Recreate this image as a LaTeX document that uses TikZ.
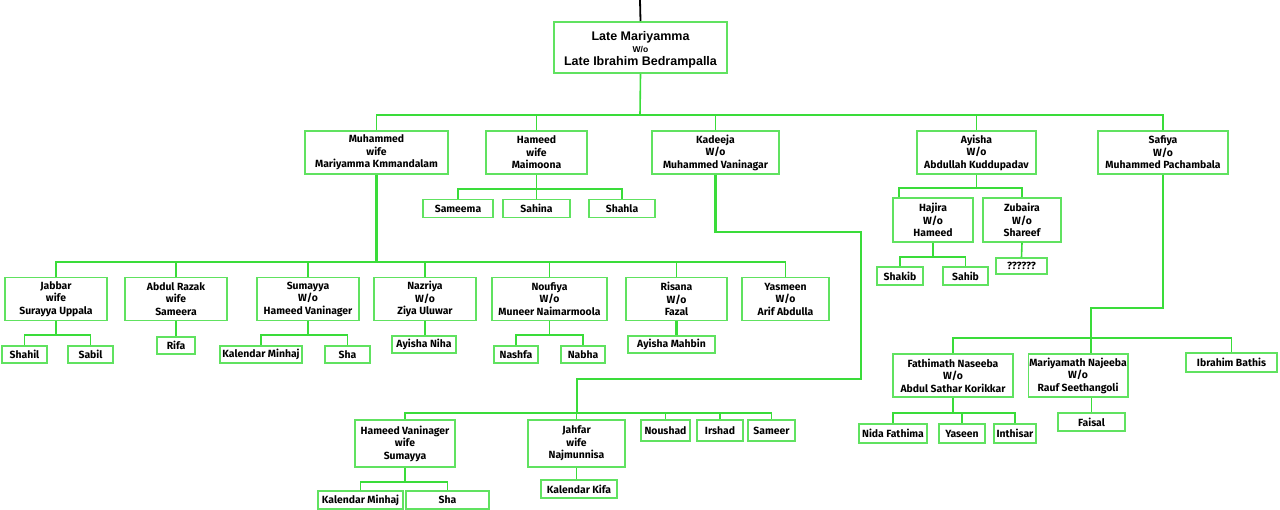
\documentclass[tikz,border=0pt]{standalone}
\usepackage{fontspec}
\setmainfont{Fira Sans}
\newfontfamily\rootfont{Liberation Sans}
\usetikzlibrary{positioning,calc}
\definecolor{boxgreen}{RGB}{96,226,96}
\definecolor{treegreen}{RGB}{58,220,58}
\tikzset{
  pbox/.style={draw=boxgreen, line width=1.5, align=center, inner sep=1pt,
    minimum height=43, font=\bfseries\fontsize{10.4}{12.5}\selectfont},
  kid/.style={pbox, minimum height=18},
  rootbox/.style={pbox, line width=2, font=\rootfont\bfseries\fontsize{12.5}{12.5}\selectfont},
  tline/.style={treegreen, line width=1.6},
  mline/.style={treegreen, line width=2.8},
}

\begin{document}
\begin{tikzpicture}[x=1pt,y=-1pt]
\useasboundingbox (0,0) rectangle (1280,510);
% root
\node[rootbox, minimum width=173, minimum height=51] (root) at (640.5,47.5)
  {\rule{0pt}{13pt}Late Mariyamma\\{\fontsize{8.5}{9}\selectfont W/o}\\Late Ibrahim Bedrampalla};
\coordinate (top) at (640,0);
\draw[black, line width=1.8] (root.north) -- (top);
% children
\node[pbox, minimum width=143] (muh) at (376.5,152.5) {Muhammed\\wife\\Mariyamma Kmmandalam};
\node[pbox, minimum width=101] (ham) at (536.5,152.5) {Hameed\\wife\\Maimoona};
\node[pbox, minimum width=127] (kad) at (715.5,152.5) {Kadeeja\\W/o\\Muhammed Vaninagar};
\node[pbox, minimum width=119] (ayi) at (976.5,152.5) {Ayisha\\W/o\\Abdullah Kuddupadav};
\node[pbox, minimum width=130] (saf) at (1163,152.5) {Safiya\\W/o\\Muhammed Pachambala};
\coordinate (b1) at (640,115);
\draw[tline] (root.south) -- (b1);
\foreach \n in {muh,ham,kad,ayi,saf} \draw[tline] (\n.north) |- (b1);
% Hameed
\node[kid, minimum width=70] (sameema) at (458,208.5) {Sameema};
\node[kid, minimum width=67] (sahina) at (536.5,208.5) {Sahina};
\node[kid, minimum width=66] (shahla) at (622,208.5) {Shahla};
\coordinate (b2) at (536.5,189);
\draw[tline] (ham.south) -- (b2);
\foreach \n in {sameema,sahina,shahla} \draw[tline] (\n.north) |- (b2);
% Muhammed
\node[pbox, minimum width=102] (jab) at (56,299) {Jabbar\\wife\\Surayya Uppala};
\node[pbox, minimum width=102] (abd) at (176,299) {Abdul Razak\\wife\\Sameera};
\node[pbox, minimum width=102] (sum) at (308,299) {Sumayya\\W/o\\Hameed Vaninager};
\node[pbox, minimum width=102] (naz) at (425,299) {Nazriya\\W/o\\Ziya Uluwar};
\node[pbox, minimum width=115] (nou) at (549.5,299) {Noufiya\\W/o\\Muneer Naimarmoola};
\node[pbox, minimum width=101] (ris) at (676.5,299) {Risana\\W/o\\Fazal};
\node[pbox, minimum width=87] (yas) at (785.5,299) {Yasmeen\\W/o\\Arif Abdulla};
\coordinate (b3) at (376.5,262);
\draw[mline] (muh.south) -- (b3);
\foreach \n in {jab,abd,sum,naz,nou,ris,yas} \draw[tline] (\n.north) |- (b3);
\node[kid, minimum width=45, minimum height=17] (shahil) at (24.5,354.5) {Shahil};
\node[kid, minimum width=45, minimum height=17] (sabil) at (90.5,354.5) {Sabil};
\coordinate (b3a) at (56,335);
\draw[tline] (jab.south) -- (b3a);
\foreach \n in {shahil,sabil} \draw[tline] (\n.north) |- (b3a);
\node[kid, minimum width=38, minimum height=17] (rifa) at (176,345.5) {Rifa};
\draw[tline] (abd.south) -- (rifa.north);
\node[kid, minimum width=82, minimum height=17] (kmin1) at (261,354.5) {Kalendar Minhaj};
\node[kid, minimum width=45, minimum height=17] (sha1) at (347.5,354.5) {Sha};
\coordinate (b3c) at (308,335);
\draw[tline] (sum.south) -- (b3c);
\foreach \n in {kmin1,sha1} \draw[tline] (\n.north) |- (b3c);
\node[kid, minimum width=64, minimum height=17] (niha) at (424,344.5) {Ayisha Niha};
\draw[tline] (naz.south) -- (naz.south |- niha.north);
\node[kid, minimum width=44, minimum height=17] (nashfa) at (516,354.5) {Nashfa};
\node[kid, minimum width=44, minimum height=17] (nabha) at (583,354.5) {Nabha};
\coordinate (b3e) at (549.5,335);
\draw[tline] (nou.south) -- (b3e);
\foreach \n in {nashfa,nabha} \draw[tline] (\n.north) |- (b3e);
\node[kid, minimum width=87, minimum height=17] (mahbin) at (671.5,344.5) {Ayisha Mahbin};
\draw[mline] (ris.south) -- (ris.south |- mahbin.north);
% Kadeeja
\node[pbox, minimum width=100, minimum height=47] (hv) at (405,443.5) {Hameed Vaninager\\wife\\Sumayya};
\node[pbox, minimum width=97, minimum height=47] (jah) at (576.5,443.5) {Jahfar\\wife\\Najmunnisa};
\node[kid, minimum width=49, minimum height=21] (nou2) at (665.5,430.5) {Noushad};
\node[kid, minimum width=46, minimum height=21] (irs) at (720,430.5) {Irshad};
\node[kid, minimum width=47, minimum height=21] (sam) at (771.5,430.5) {Sameer};
\coordinate (k1) at (861,232);
\coordinate (k2) at (577,379);
\coordinate (b4) at (577,413);
\draw[mline] (kad.south) |- (k1) |- (k2) -- (b4);
\foreach \n in {hv,jah,nou2,irs,sam} \draw[tline] (\n.north) |- (b4);
\node[kid, minimum width=85] (kmin2) at (360.5,500) {Kalendar Minhaj};
\node[kid, minimum width=83] (sha2) at (447.5,500) {Sha};
\coordinate (b4a) at (405,482);
\draw[tline] (hv.south) -- (b4a);
\foreach \n in {kmin2,sha2} \draw[tline] (\n.north) |- (b4a);
\node[kid, minimum width=76] (kifa) at (579,489) {Kalendar Kifa};
\draw[tline] (jah.south) -- (jah.south |- kifa.north);
% Ayisha
\node[pbox, minimum width=80, minimum height=44] (haj) at (933,220) {Hajira\\W/o\\Hameed};
\node[pbox, minimum width=78, minimum height=44] (zub) at (1022,220) {Zubaira\\W/o\\Shareef};
\coordinate (b5) at (976.5,188);
\coordinate (a1) at (899,188);
\draw[tline] (ayi.south) -- (b5);
\draw[tline] (b5) -- (a1) -- (a1 |- haj.north);
\draw[tline] (zub.north) |- (b5);
\node[kid, minimum width=46] (shakib) at (900,276) {Shakib};
\node[kid, minimum width=45] (sahib) at (965.5,276) {Sahib};
\coordinate (b5a) at (933,257);
\draw[tline] (haj.south) -- (b5a);
\foreach \n in {shakib,sahib} \draw[tline] (\n.north) |- (b5a);
\node[kid, minimum width=51, minimum height=16] (unk) at (1021.5,266) {??????};
\draw[tline] (zub.south) -- (unk.north);
% Safiya
\node[pbox, minimum width=120] (fn) at (953,375.5) {Fathimath Naseeba\\W/o\\Abdul Sathar Korikkar};
\node[pbox, minimum width=98] (mn) at (1078,375.5) {Mariyamath Najeeba\\W/o\\Rauf Seethangoli};
\node[kid, minimum width=91, minimum height=19] (ib) at (1231.5,362.5) {Ibrahim Bathis};
\coordinate (s1) at (1091,308);
\coordinate (b6) at (1091,338);
\draw[mline] (saf.south) |- (s1) -- (b6);
\foreach \n in {fn,ib} \draw[tline] (\n.north) |- (b6);
\draw[tline] (b6) -- (b6 |- mn.north);
\node[kid, minimum width=68, minimum height=19] (nida) at (893,433.5) {Nida Fathima};
\node[kid, minimum width=46, minimum height=19] (yas2) at (962,433.5) {Yaseen};
\node[kid, minimum width=42, minimum height=19] (inth) at (1015,433.5) {Inthisar};
\coordinate (b6a) at (953,413);
\draw[tline] (fn.south) -- (b6a);
\foreach \n in {nida,yas2,inth} \draw[tline] (\n.north) |- (b6a);
\node[kid, minimum width=67] (faisal) at (1091.5,422) {Faisal};
\draw[tline] (faisal.north) -- (faisal.north |- mn.south);
\end{tikzpicture}
\end{document}
